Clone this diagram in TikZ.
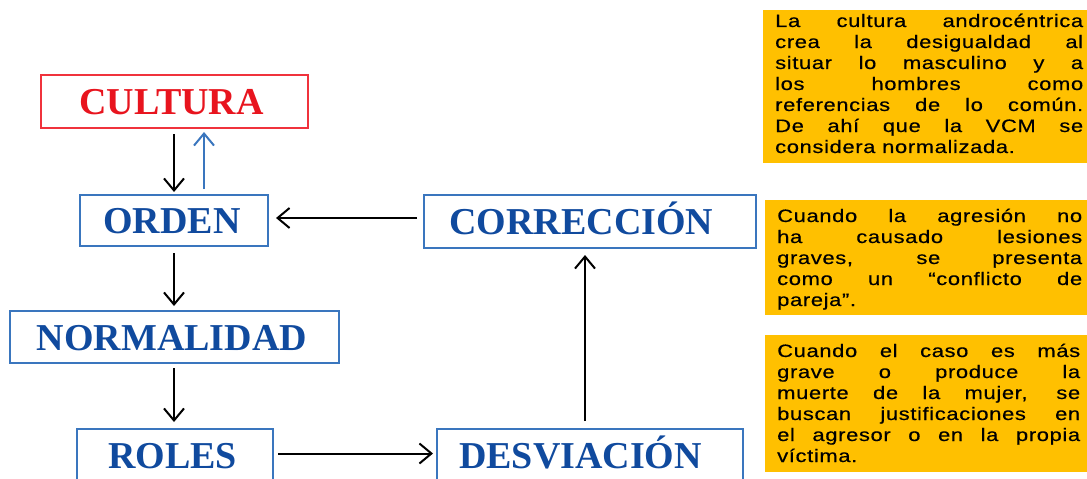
\documentclass[tikz,border=0pt]{standalone}
\usepackage{fontspec}
\usetikzlibrary{arrows.meta}
\newfontfamily\titlefont{Liberation Serif}
\newfontfamily\notefont[FakeStretch=1.22,LetterSpace=3.5,FakeBold=0.4]{Liberation Sans}
\definecolor{boxblue}{RGB}{58,118,190}
\definecolor{txtblue}{RGB}{16,74,158}
\definecolor{boxred}{RGB}{240,50,60}
\definecolor{txtred}{RGB}{232,20,30}
\definecolor{noteyellow}{RGB}{255,192,0}
\tikzset{
  box/.style={draw=boxblue, line width=2pt, text=txtblue, inner sep=0pt,
    font=\titlefont\bfseries\fontsize{38}{40}\selectfont, text height=26pt, text depth=0pt},
  redbox/.style={box, draw=boxred, text=txtred},
  arr/.style={line width=2pt, -{Straight Barb[length=12pt,width=20pt,line width=2pt]}},
  arrblue/.style={arr, draw=boxblue},
  notebox/.style={fill=noteyellow, draw=none, inner sep=0pt, anchor=north west},
  notetext/.style={inner sep=0pt, anchor=base west, font=\notefont\fontsize{18}{21}\selectfont, text=black}
}
\begin{document}
\begin{tikzpicture}[x=1pt,y=-1pt]
\useasboundingbox (0,0) rectangle (1087,479);
% boxes
\node[redbox, minimum width=267pt, minimum height=53pt] (cultura) at (174.5,101.5) {CULTURA\hspace*{6pt}};
\node[box, minimum width=188pt, minimum height=51pt] (orden) at (174,220.5) {ORDEN\hspace*{4pt}};
\node[box, minimum width=329pt, minimum height=52pt] (normalidad) at (174.5,337) {NORMALIDAD\hspace*{5pt}};
\node[box, minimum width=196pt, minimum height=52pt] (roles) at (175,455) {ROLES\hspace*{5pt}};
\node[box, minimum width=332pt, minimum height=53pt] (correccion) at (590,221.5) {CORRECCIÓN\hspace*{17pt}};
\node[box, minimum width=306pt, minimum height=52pt] (desviacion) at (590,455) {DESVIACIÓN\hspace*{19pt}};
% connectors
\draw[arr, shorten <=5pt, shorten >=2pt] ([xshift=-0.5pt]cultura.south) -- (orden.north);
\draw[arrblue, shorten <=5pt, shorten >=3pt] ([xshift=30pt]orden.north) -- ([xshift=29.5pt]cultura.south);
\draw[arr, shorten <=6pt, shorten >=4pt] (orden.south) -- ([xshift=-0.5pt]normalidad.north);
\draw[arr, shorten <=4pt, shorten >=6pt] ([xshift=-0.5pt]normalidad.south) -- ([xshift=-1pt]roles.north);
\draw[arr, shorten <=4pt, shorten >=3pt] ([yshift=1.5pt]roles.east) -- ([yshift=1.5pt]desviacion.west);
\draw[arr, shorten <=7pt, shorten >=6pt] ([xshift=-5pt]desviacion.north) -- ([xshift=-5pt]correccion.south);
\draw[arr, shorten <=6pt, shorten >=7pt] ([yshift=3.5pt]correccion.west) -- ([yshift=2.5pt]orden.east);
% notes
\node[notebox, minimum width=325pt, minimum height=153pt] (note1) at (763,10) {};
\node[notetext] (text1) at (775,27) {\parbox[t]{308pt}{%
\makebox[308pt][s]{La cultura androcéntrica}\\
\makebox[308pt][s]{crea la desigualdad al}\\
\makebox[308pt][s]{situar lo masculino y a}\\
\makebox[308pt][s]{los hombres como}\\
\makebox[308pt][s]{referencias de lo común.}\\
\makebox[308pt][s]{De ahí que la VCM se}\\
considera normalizada.}};
\node[notebox, minimum width=323pt, minimum height=115pt] (note2) at (765,200) {};
\node[notetext] (text2) at (777,222) {\parbox[t]{305pt}{%
\makebox[305pt][s]{Cuando la agresión no}\\
\makebox[305pt][s]{ha causado lesiones}\\
\makebox[305pt][s]{graves, se presenta}\\
\makebox[305pt][s]{como un “conflicto de}\\
pareja”.}};
\node[notebox, minimum width=323pt, minimum height=137pt] (note3) at (765,335) {};
\node[notetext] (text3) at (777,357) {\parbox[t]{303pt}{%
\makebox[303pt][s]{Cuando el caso es más}\\
\makebox[303pt][s]{grave o produce la}\\
\makebox[303pt][s]{muerte de la mujer, se}\\
\makebox[303pt][s]{buscan justificaciones en}\\
\makebox[303pt][s]{el agresor o en la propia}\\
víctima.}};
\end{tikzpicture}
\end{document}
